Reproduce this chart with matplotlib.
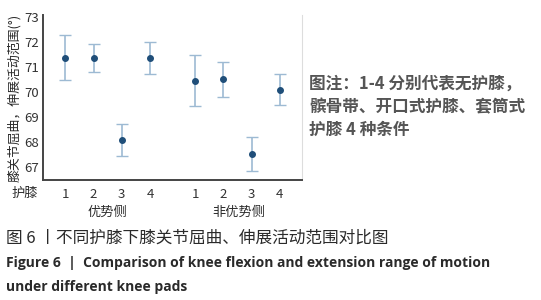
import numpy as np
import matplotlib.pyplot as plt

plt.rcParams['font.family'] = ['Noto Sans CJK SC', 'DejaVu Sans']

tick_labels = ['1', '2', '3', '4', '1', '2', '3', '4']
positions = [1, 2, 3, 4, 5.6, 6.6, 7.6, 8.6]
means = [71.38, 71.36, 68.09, 71.37, 70.45, 70.50, 67.52, 70.10]
errors = [0.89, 0.56, 0.64, 0.64, 1.02, 0.70, 0.69, 0.61]
groups = ['优势侧', '非优势侧']
yticks = [67, 68, 69, 70, 71, 72, 73]

fig = plt.figure(figsize=(5.41, 3.0), dpi=100)
ax = fig.add_axes([0.0795, 0.40, 0.479, 0.55])

ax.errorbar(positions, means, yerr=errors, fmt='o', color='#1f4e79', markersize=4,
            ecolor='#9dbad3', elinewidth=1.2, capsize=4, capthick=1.0)

ax.set_xlim(0.21, 9.39)
ax.set_ylim(66.48, 73.08)
ax.set_yticks(yticks)
ax.set_xticks(positions)
ax.set_xticklabels(tick_labels)
ax.tick_params(axis='both', length=0, labelsize=9.5, colors='#333333', pad=6)
ax.tick_params(axis='y', pad=3)

ax.spines['top'].set_visible(False)
ax.spines['right'].set_color('#dddddd')
ax.spines['right'].set_linewidth(0.8)
ax.spines['left'].set_color('#444444')
ax.spines['left'].set_linewidth(1.4)
ax.spines['bottom'].set_color('#444444')
ax.spines['bottom'].set_linewidth(1.4)

ax.set_ylabel('膝关节屈曲，伸展活动范围(°)', fontsize=9.3, color='#2a2a2a', labelpad=2)

fig.text(25 / 541, 1 - 193 / 300, '护膝', fontsize=9.5, color='#2a2a2a', ha='center', va='center')
fig.text(107 / 541, 1 - 212 / 300, groups[0], fontsize=9.5, color='#2a2a2a', ha='center', va='center')
fig.text(239 / 541, 1 - 212 / 300, groups[1], fontsize=9.5, color='#2a2a2a', ha='center', va='center')

note = '图注：1-4 分别代表无护膝，\n髌骨带、开口式护膝、套筒式\n护膝 4 种条件'
fig.text(309 / 541, 1 - 107 / 300, note, fontsize=12, fontweight='bold', color='#555555',
         ha='left', va='center', linespacing=1.35)

fig.text(6 / 541, 1 - 238 / 300, '图 6 丨不同护膝下膝关节屈曲、伸展活动范围对比图', fontsize=12,
         color='#2a2a2a', ha='left', va='center')
fig.text(6 / 541, 1 - 263 / 300, 'Figure 6  |  Comparison of knee flexion and extension range of motion',
         fontsize=10, fontweight='bold', family=['Open Sans', 'DejaVu Sans'], color='#2a2a2a',
         ha='left', va='center')
fig.text(6 / 541, 1 - 287 / 300, 'under different knee pads',
         fontsize=10, fontweight='bold', family=['Open Sans', 'DejaVu Sans'], color='#2a2a2a',
         ha='left', va='center')

fig.savefig('out.png', dpi=100)
